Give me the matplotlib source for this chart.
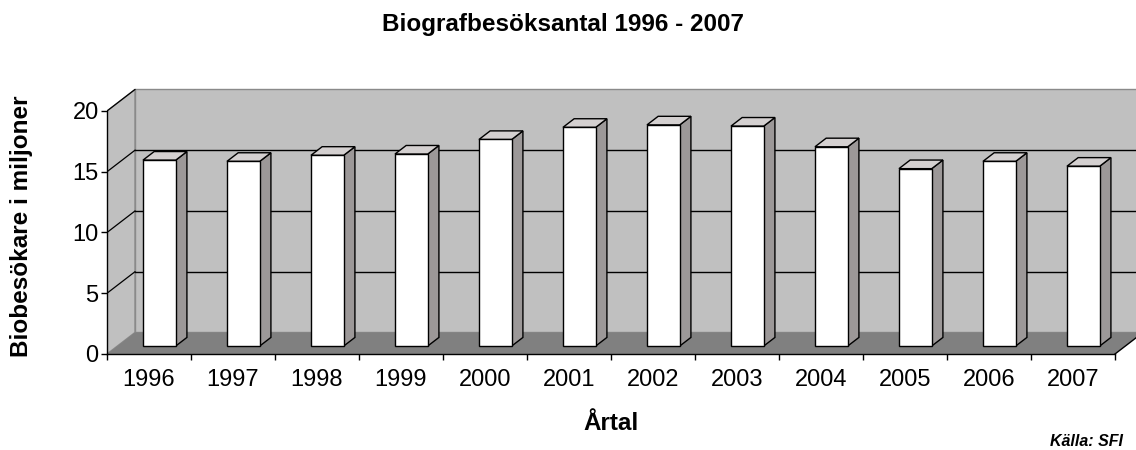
import numpy as np
import matplotlib.pyplot as plt

# ── DATA ──────────────────────────────────────────────────────────────────────
years  = ["1996", "1997", "1998", "1999", "2000", "2001",
          "2002", "2003", "2004", "2005", "2006", "2007"]
visits = [15.3, 15.2, 15.7, 15.8, 17.0, 18.0, 18.2, 18.1, 16.4, 14.6, 15.2, 14.8]
yticks = [0, 5, 10, 15, 20]

# ── STYLE / 3D LOOK ───────────────────────────────────────────────────────────
plt.rcParams["font.family"] = ["Liberation Sans", "DejaVu Sans"]

WALL   = "#c0c0c0"
FLOOR  = "#808080"
SIDE   = "#9c9898"
TOP    = "#d4d0d0"
EDGE_W = "#8a8a8a"

DX, DY = 0.333, 1.77     # depth offset of back wall (data units)
Z0, Z1 = 0.37, 0.77      # depth of bar front / back
W      = 0.39            # bar width
YMAX   = 20

fig = plt.figure(figsize=(11.36, 4.5), dpi=100)
ax = fig.add_axes([107 / 1136, 96 / 450, 1029 / 1136, 274 / 450])
ax.set_xlim(-0.5, -0.5 + 1029 / 84)
ax.set_ylim(0, 274 / 12.15)
ax.patch.set_alpha(0)

n = len(years)
x = np.arange(n)
x0, x1 = -0.5, n - 0.5

# back wall
ax.fill([x0 + DX, x1 + DX, x1 + DX, x0 + DX],
        [DY, DY, YMAX + DY, YMAX + DY],
        color=WALL, ec=EDGE_W, lw=1, zorder=1)
# left wall
ax.fill([x0, x0 + DX, x0 + DX, x0], [0, DY, YMAX + DY, YMAX],
        color=WALL, ec=EDGE_W, lw=1, zorder=1)
# floor
ax.fill([x0, x1, x1 + DX, x0 + DX], [0, 0, DY, DY],
        color=FLOOR, ec="none", zorder=1)
ax.plot([x1, x1 + DX], [0, DY], color="black", lw=1, zorder=2)

# gridlines on walls
for v in yticks[1:-1]:
    ax.plot([x0 + DX, x1 + DX], [v + DY, v + DY], color="black", lw=1, zorder=2)
for v in yticks[1:]:
    ax.plot([x0, x0 + DX], [v, v + DY], color="black", lw=0.9, zorder=2)

# bars: front face
ax.bar(x + Z0 * DX, visits, width=W, bottom=Z0 * DY,
       color="white", edgecolor="black", lw=1, zorder=4)
d = Z1 - Z0
for xi, v in zip(x, visits):
    xl = xi - W / 2 + Z0 * DX
    xr = xi + W / 2 + Z0 * DX
    yb, yt = Z0 * DY, v + Z0 * DY
    # side face
    ax.fill([xr, xr + d * DX, xr + d * DX, xr],
            [yb, yb + d * DY, yt + d * DY, yt],
            color=SIDE, ec="black", lw=1, zorder=3)
    # top face
    ax.fill([xl, xr, xr + d * DX, xl + d * DX],
            [yt, yt, yt + d * DY, yt + d * DY],
            color=TOP, ec="black", lw=1, zorder=3)

# axes
for s in ["top", "right"]:
    ax.spines[s].set_visible(False)
ax.spines["left"].set_position(("data", x0))
ax.spines["left"].set_bounds(0, YMAX)
ax.spines["bottom"].set_bounds(x0, x1)
for s in ["left", "bottom"]:
    ax.spines[s].set_zorder(5)
    ax.spines[s].set_linewidth(1)

ax.set_yticks(yticks)
ax.set_yticklabels([str(t) for t in yticks])
ax.tick_params(axis="y", direction="out", length=4, width=1, pad=2, labelsize=17)
ax.set_xticks(x)
ax.set_xticklabels(years)
ax.set_xticks(np.arange(n + 1) - 0.5, minor=True)
ax.tick_params(axis="x", which="major", length=0, pad=11, labelsize=17)
ax.tick_params(axis="x", which="minor", direction="out", length=4, width=1)

# texts
fig.text(563 / 1136, 1 - 24 / 450, "Biografbesöksantal 1996 - 2007",
         ha="center", va="center", fontsize=17.5, fontweight="bold")
fig.text(22 / 1136, 1 - 226 / 450, "Biobesökare i miljoner", rotation=90,
         ha="center", va="center", fontsize=17.5, fontweight="bold")
fig.text(611 / 1136, 1 - 424 / 450, "Årtal",
         ha="center", va="center", fontsize=17.5, fontweight="bold")
fig.text(1123 / 1136, 1 - 441 / 450, "Källa: SFI",
         ha="right", va="center", fontsize=11.5, fontweight="bold", style="italic")

fig.savefig("out.png", dpi=100)
